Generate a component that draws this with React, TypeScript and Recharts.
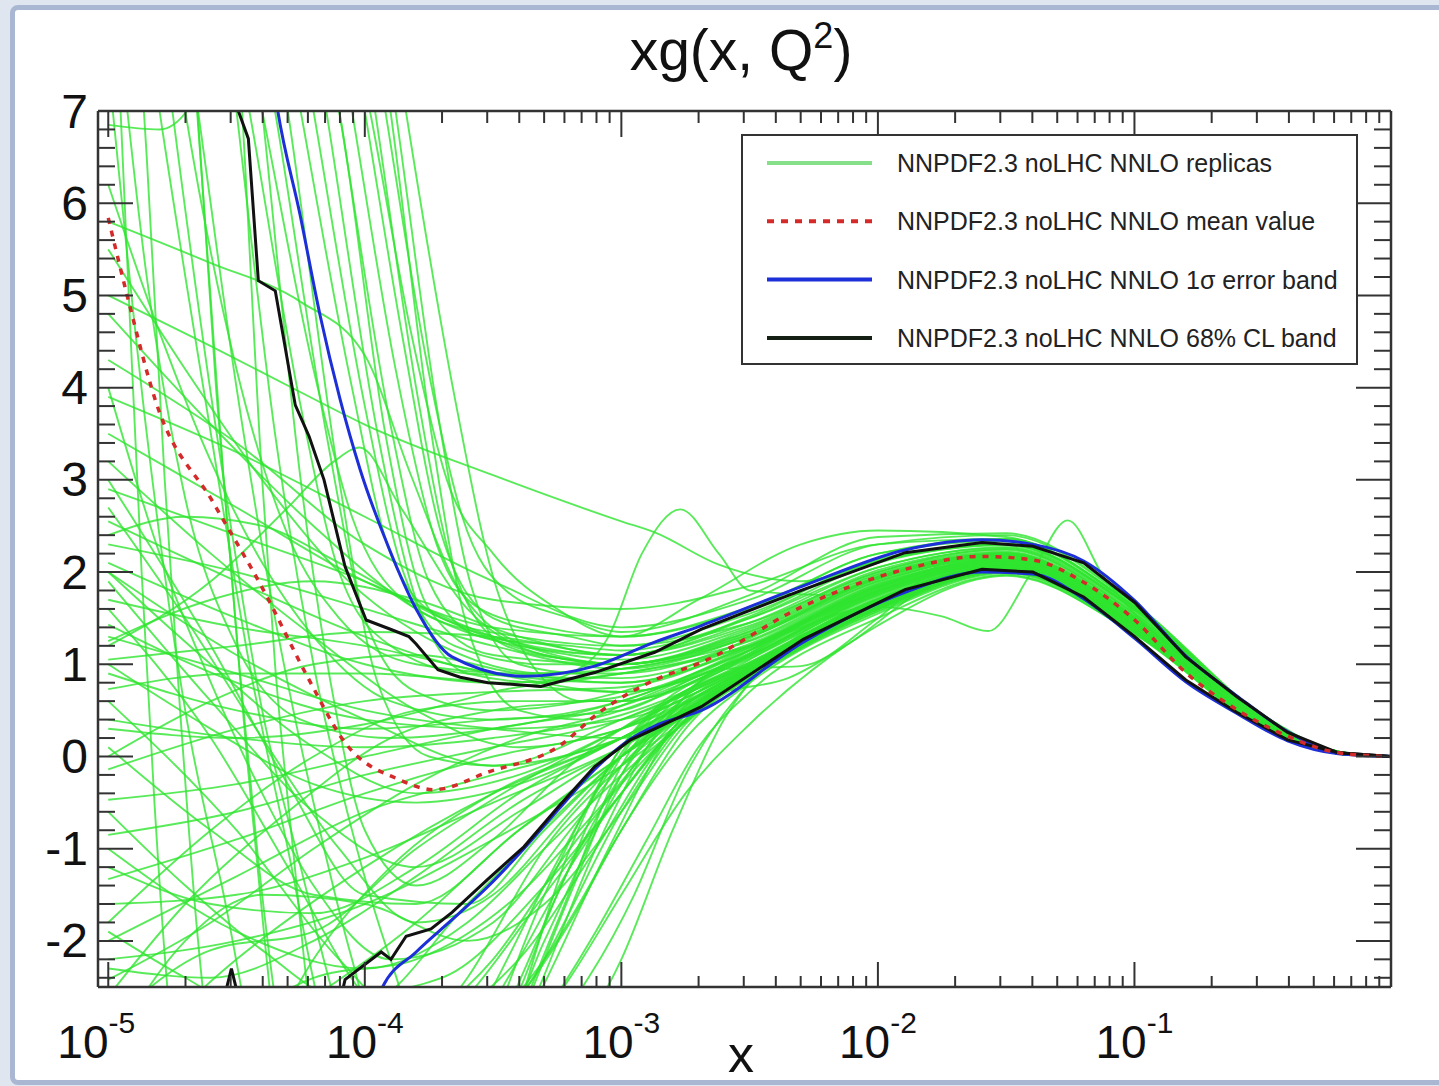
import React from 'react';
import { LineChart, Line, XAxis, YAxis } from 'recharts';

type Pt = [number, number];

// x values are log10(x); y values are xg(x, Q^2)
const meanCurve: Pt[] = [
  [-5, 5.84], [-4.921, 4.94], [-4.816, 3.86], [-4.59, 2.75], [-4.396, 1.81], [-4.217, 0.83],
  [-4.077, 0.15], [-3.867, -0.25], [-3.73, -0.36], [-3.52, -0.17], [-3.244, 0.11], [-3.085, 0.48],
  [-2.87, 0.83], [-2.688, 1.02], [-2.291, 1.63], [-1.894, 2.03], [-1.594, 2.17], [-1.396, 2.13],
  [-1.198, 1.89], [-0.999, 1.48], [-0.8, 0.91], [-0.602, 0.51], [-0.403, 0.22], [-0.205, 0.04], [0, 0],
];

const upper68: Pt[] = [
  [-4.55, 8.5], [-4.493, 7.0], [-4.454, 6.7], [-4.415, 5.16], [-4.349, 5.05], [-4.271, 3.81],
  [-4.217, 3.47], [-4.159, 3.0], [-4.077, 2.06], [-3.995, 1.48], [-3.9, 1.38], [-3.828, 1.3],
  [-3.8, 1.22], [-3.715, 0.94], [-3.628, 0.86], [-3.52, 0.8], [-3.314, 0.76], [-3.104, 0.91],
  [-2.87, 1.13], [-2.688, 1.38], [-2.291, 1.81], [-1.894, 2.21], [-1.594, 2.32], [-1.396, 2.28],
  [-1.198, 2.1], [-0.999, 1.67], [-0.8, 1.08], [-0.602, 0.65], [-0.403, 0.26], [-0.205, 0.04], [0, 0],
];

const lower68: Pt[] = [
  [-4.6, -3.2], [-4.52, -2.3], [-4.45, -3.1], [-4.2, -3.4], [-4.1, -2.7], [-4.077, -2.42],
  [-3.936, -2.12], [-3.898, -2.2], [-3.839, -1.95], [-3.742, -1.87], [-3.66, -1.69], [-3.52, -1.33],
  [-3.38, -0.98], [-3.244, -0.54], [-3.104, -0.11], [-2.964, 0.18], [-2.87, 0.3], [-2.688, 0.54],
  [-2.291, 1.27], [-1.894, 1.81], [-1.594, 2.03], [-1.396, 2.0], [-1.198, 1.73], [-0.999, 1.3],
  [-0.8, 0.83], [-0.602, 0.48], [-0.403, 0.18], [-0.205, 0.04], [0, 0],
];

const upperSigma: Pt[] = [
  [-4.45, 9.5], [-4.341, 7.03], [-4.252, 5.87], [-4.174, 4.78], [-4.096, 3.87], [-4.018, 3.11],
  [-3.909, 2.28], [-3.8, 1.6], [-3.66, 1.08], [-3.38, 0.87], [-3.104, 0.98], [-2.87, 1.24],
  [-2.688, 1.42], [-2.291, 1.85], [-1.894, 2.24], [-1.594, 2.35], [-1.396, 2.3], [-1.198, 2.12],
  [-0.999, 1.69], [-0.8, 1.09], [-0.602, 0.66], [-0.403, 0.27], [-0.205, 0.04], [0, 0],
];

const lowerSigma: Pt[] = [
  [-4.05, -3.5], [-3.936, -2.53], [-3.8, -2.12], [-3.66, -1.77], [-3.52, -1.41], [-3.38, -1.0],
  [-3.244, -0.57], [-3.104, -0.14], [-2.964, 0.19], [-2.87, 0.33], [-2.688, 0.5], [-2.291, 1.24],
  [-1.894, 1.78], [-1.594, 2.0], [-1.396, 1.98], [-1.198, 1.71], [-0.999, 1.28], [-0.8, 0.81],
  [-0.602, 0.47], [-0.403, 0.17], [-0.205, 0.03], [0, 0],
];

const replicaCurves: Pt[][] = [
  // steep replicas coming down from the top
  [[-4.5,11],[-4.25,7],[-4.05,4],[-3.9,2.2],[-3.7,1.5],[-3.4,1.3],[-3,1.2],[-2.5,1.55],[-2,2.12],[-1.5,2.3],[-1,1.6],[-0.5,0.43],[-0.2,0.05],[0,0]],
  [[-4.5,12],[-4.2,7],[-4,3.8],[-3.85,2],[-3.65,1.2],[-3.3,1],[-3,1],[-2.5,1.35],[-2,1.95],[-1.5,2.2],[-1,1.5],[-0.5,0.39],[-0.2,0.04],[0,0]],
  [[-4.5,13],[-4.15,7],[-3.95,3.5],[-3.8,1.7],[-3.6,0.9],[-3.3,0.8],[-3,0.9],[-2.5,1.2],[-2,1.85],[-1.5,2.15],[-1,1.47],[-0.5,0.37],[-0.2,0.04],[0,0]],
  [[-4.4,12],[-4.1,7],[-3.9,3.6],[-3.75,1.9],[-3.55,1.3],[-3.2,1.2],[-3,1.15],[-2.5,1.5],[-2,2.05],[-1.5,2.27],[-1,1.58],[-0.5,0.41],[-0.2,0.05],[0,0]],
  [[-4.4,13],[-4.05,7],[-3.88,4.2],[-3.72,2.3],[-3.55,1.6],[-3.3,1.4],[-3,1.3],[-2.5,1.62],[-2,2.2],[-1.5,2.36],[-1,1.63],[-0.5,0.44],[-0.2,0.05],[0,0]],
  [[-4.3,12],[-4,7],[-3.85,4.5],[-3.7,2.4],[-3.5,1.5],[-3.2,1.3],[-3,1.2],[-2.5,1.45],[-2,2.0],[-1.5,2.25],[-1,1.55],[-0.5,0.4],[-0.2,0.04],[0,0]],
  [[-4.3,13],[-3.96,7],[-3.8,4],[-3.65,2],[-3.45,1.2],[-3.2,1.05],[-3,1],[-2.5,1.3],[-2,1.9],[-1.5,2.16],[-1,1.48],[-0.5,0.38],[-0.2,0.04],[0,0]],
  [[-4.2,12],[-3.92,7],[-3.76,4.3],[-3.62,2.6],[-3.45,1.8],[-3.2,1.5],[-3,1.35],[-2.5,1.75],[-2,2.38],[-1.5,2.42],[-1,1.66],[-0.5,0.45],[-0.2,0.05],[0,0]],
  [[-4.2,13],[-3.88,7],[-3.72,3.8],[-3.58,1.8],[-3.4,1],[-3.15,0.9],[-3,0.95],[-2.5,1.25],[-2,1.88],[-1.5,2.18],[-1,1.5],[-0.5,0.38],[-0.2,0.04],[0,0]],
  [[-4.1,12],[-3.84,7],[-3.65,3.9],[-3.5,1.95],[-3.35,1],[-3.15,0.6],[-3,0.6],[-2.5,1.1],[-2,1.8],[-1.5,2.12],[-1,1.45],[-0.5,0.36],[-0.2,0.03],[0,0]],
  [[-4.6,12],[-4.3,7],[-4.1,3],[-3.95,0.8],[-3.75,0],[-3.5,-0.1],[-3,0.4],[-2.5,1.0],[-2,1.7],[-1.5,2.06],[-1,1.4],[-0.5,0.35],[-0.2,0.03],[0,0]],
  [[-4.7,12],[-4.35,7],[-4.15,3.5],[-4,1.5],[-3.8,0.7],[-3.5,0.5],[-3,0.7],[-2.5,1.28],[-2,1.93],[-1.5,2.19],[-1,1.5],[-0.5,0.38],[-0.2,0.04],[0,0]],
  [[-4.3,11],[-3.98,7],[-3.82,4.6],[-3.68,3],[-3.5,2.2],[-3.25,1.6],[-3,1.3],[-2.5,1.6],[-2,2.2],[-1.5,2.34],[-1,1.62],[-0.5,0.43],[-0.2,0.05],[0,0]],
  [[-4.2,12],[-3.9,7],[-3.74,3.5],[-3.6,1.4],[-3.4,0.5],[-3.15,0.4],[-3,0.55],[-2.5,1.15],[-2,1.82],[-1.5,2.14],[-1,1.46],[-0.5,0.37],[-0.2,0.04],[0,0]],
  [[-4.8,12],[-4.45,7],[-4.25,3.8],[-4.1,2],[-3.9,1.2],[-3.6,0.9],[-3,0.85],[-2.5,1.22],[-2,1.87],[-1.5,2.14],[-1,1.47],[-0.5,0.37],[-0.2,0.04],[0,0]],
  [[-4.75,12],[-4.4,7],[-4.2,4.2],[-4.05,2.6],[-3.85,1.7],[-3.5,1.3],[-3,1.1],[-2.5,1.42],[-2,2.02],[-1.5,2.24],[-1,1.54],[-0.5,0.4],[-0.2,0.04],[0,0]],
  [[-4.9,11],[-4.7,7],[-4.5,4.2],[-4.3,2.4],[-4.1,1.5],[-3.8,1.0],[-3.4,0.9],[-3,0.95],[-2.5,1.3],[-2,1.92],[-1.5,2.18],[-1,1.5],[-0.5,0.38],[-0.2,0.04],[0,0]],
  [[-4.6,12],[-4.4,7],[-4.25,3.0],[-4.12,0.6],[-4.0,-0.8],[-3.8,-1.4],[-3.5,-0.9],[-3.2,-0.1],[-3,0.3],[-2.5,1.0],[-2,1.71],[-1.5,2.07],[-1,1.41],[-0.5,0.35],[-0.2,0.03],[0,0]],
  // near-vertical replicas crossing the whole range
  [[-5,7.5],[-4.85,3.5],[-4.7,0.5],[-4.55,-1.5],[-4.4,-3.5],[-4,-5],[-3.5,-3.5],[-3.2,-1.0],[-3,0.1],[-2.5,1.05],[-2,1.75],[-1.5,2.08],[-1,1.41],[-0.5,0.35],[-0.2,0.03],[0,0]],
  [[-5,11],[-4.8,7],[-4.6,3.5],[-4.45,1],[-4.3,-1],[-4.15,-3],[-3.8,-4.5],[-3.4,-3],[-3.1,-1],[-2.9,0.1],[-2.7,0.8],[-2.5,1.15],[-2,1.8],[-1.5,2.1],[-1,1.44],[-0.5,0.36],[-0.2,0.03],[0,0]],
  [[-5,13],[-4.75,7],[-4.55,3],[-4.4,0.5],[-4.25,-1.2],[-4.1,-2.8],[-3.9,-4],[-3.5,-3],[-3.2,-1.2],[-3,-0.2],[-2.75,0.6],[-2.5,1.0],[-2,1.68],[-1.5,2.05],[-1,1.39],[-0.5,0.34],[-0.2,0.03],[0,0]],
  [[-4.9,12],[-4.65,7],[-4.5,4],[-4.35,1.5],[-4.2,-0.5],[-4.05,-2.2],[-3.9,-3.5],[-3.6,-3.8],[-3.3,-2],[-3,-0.3],[-2.75,0.55],[-2.5,0.95],[-2,1.64],[-1.5,2.04],[-1,1.38],[-0.5,0.34],[-0.2,0.03],[0,0]],
  [[-4.7,12],[-4.5,7],[-4.35,3.5],[-4.2,1],[-4.05,-0.8],[-3.9,-2.2],[-3.75,-3.2],[-3.5,-3],[-3.25,-1.5],[-3,0],[-2.5,1.1],[-2,1.78],[-1.5,2.09],[-1,1.43],[-0.5,0.35],[-0.2,0.03],[0,0]],
  [[-5,16],[-4.7,9],[-4.58,4],[-4.52,2],[-4.46,0],[-4.39,-2],[-4.3,-4],[-4,-5],[-3.5,-3.5],[-3.2,-1.5],[-3,-0.2],[-2.75,0.65],[-2.5,1.02],[-2,1.7],[-1.5,2.07],[-1,1.4],[-0.5,0.35],[-0.2,0.03],[0,0]],
  [[-5,15],[-4.68,8],[-4.55,3],[-4.49,1],[-4.42,-1],[-4.33,-3],[-4.1,-5],[-3.6,-4],[-3.25,-1.8],[-3,-0.1],[-2.75,0.7],[-2.5,1.08],[-2,1.76],[-1.5,2.1],[-1,1.44],[-0.5,0.36],[-0.2,0.03],[0,0]],
  [[-4.8,14],[-4.5,8],[-4.4,3],[-4.35,1],[-4.28,-1],[-4.2,-3],[-4,-4.5],[-3.6,-3.5],[-3.3,-1.5],[-3,0.1],[-2.5,1.12],[-2,1.79],[-1.5,2.11],[-1,1.45],[-0.5,0.36],[-0.2,0.03],[0,0]],
  [[-5,10],[-4.92,5],[-4.87,2],[-4.82,-0.5],[-4.75,-3],[-4.5,-5],[-3.8,-4],[-3.3,-2.2],[-3,-0.6],[-2.75,0.4],[-2.5,0.9],[-2,1.6],[-1.5,2.02],[-1,1.36],[-0.5,0.33],[-0.2,0.03],[0,0]],
  [[-5,12],[-4.85,6.5],[-4.78,3],[-4.72,0.5],[-4.65,-2],[-4.55,-4],[-4,-5],[-3.4,-3],[-3.05,-1],[-2.8,0.3],[-2.5,0.95],[-2,1.66],[-1.5,2.04],[-1,1.38],[-0.5,0.34],[-0.2,0.03],[0,0]],
  [[-5,4.0],[-4.8,2.2],[-4.6,0.8],[-4.4,-0.4],[-4.2,-1.4],[-3.9,-2.2],[-3.5,-1.8],[-3.2,-0.8],[-3,-0.1],[-2.5,0.92],[-2,1.64],[-1.5,2.04],[-1,1.38],[-0.5,0.34],[-0.2,0.03],[0,0]],
  [[-5,9],[-4.85,5.2],[-4.7,2.8],[-4.5,1.2],[-4.25,0.4],[-3.9,0.2],[-3.5,0.3],[-3,0.6],[-2.5,1.16],[-2,1.83],[-1.5,2.12],[-1,1.46],[-0.5,0.37],[-0.2,0.04],[0,0]],
  // long replicas starting at the left edge
  [[-5,5.8],[-4.6,5.35],[-4.25,4.93],[-4,4.35],[-3.82,3.05],[-3.65,1.9],[-3.45,1.3],[-3.2,1.1],[-3,1.05],[-2.5,1.4],[-2,2.0],[-1.5,2.22],[-1,1.52],[-0.5,0.39],[-0.2,0.04],[0,0]],
  [[-5,5.0],[-4.6,4.45],[-4.25,3.95],[-4,3.6],[-3.5,3.05],[-3,2.55],[-2.87,2.43],[-2.62,2.08],[-2.3,1.9],[-2,2.12],[-1.5,2.3],[-1,1.6],[-0.5,0.42],[-0.2,0.05],[0,0]],
  [[-5,6.85],[-4.8,6.8],[-4.65,7.2],[-4.5,8.5],[-4.3,9],[-4.1,7],[-3.92,3.5],[-3.75,1.6],[-3.5,1.1],[-3,1],[-2.5,1.33],[-2,1.94],[-1.5,2.18],[-1,1.5],[-0.5,0.38],[-0.2,0.04],[0,0]],
  [[-5,1.2],[-4.6,1.9],[-4.3,2.7],[-4.12,3.2],[-4.02,3.35],[-3.86,2.7],[-3.6,1.6],[-3.3,1.1],[-3,1],[-2.5,1.36],[-2,1.97],[-1.5,2.2],[-1,1.51],[-0.5,0.38],[-0.2,0.04],[0,0]],
  [[-5,0.3],[-4.5,0.2],[-4,0.35],[-3.5,0.7],[-3.2,0.9],[-3.05,1.3],[-2.92,2.2],[-2.77,2.68],[-2.62,2.2],[-2.5,1.8],[-2.2,1.75],[-2,1.95],[-1.5,2.2],[-1,1.5],[-0.5,0.38],[-0.2,0.04],[0,0]],
  [[-5,2.1],[-4.5,1.5],[-4,1.0],[-3.5,0.8],[-3,0.9],[-2.5,1.2],[-2,1.62],[-1.75,1.52],[-1.57,1.36],[-1.4,2.0],[-1.26,2.56],[-1.12,1.95],[-1,1.55],[-0.5,0.4],[-0.2,0.04],[0,0]],
  [[-5,3.9],[-4.5,3.3],[-4,2.6],[-3.5,1.9],[-3,1.4],[-2.5,1.7],[-2,2.3],[-1.5,2.4],[-1,1.65],[-0.5,0.45],[-0.2,0.05],[0,0]],
  [[-5,2.9],[-4.5,2.4],[-4,1.9],[-3.5,1.3],[-3,1.0],[-2.5,1.32],[-2,1.93],[-1.5,2.17],[-1,1.49],[-0.5,0.38],[-0.2,0.04],[0,0]],
  [[-5,2.55],[-4.5,1.9],[-4,1.3],[-3.5,0.9],[-3,0.8],[-2.5,1.18],[-2,1.84],[-1.5,2.13],[-1,1.46],[-0.5,0.37],[-0.2,0.04],[0,0]],
  [[-5,2.3],[-4.5,2.0],[-4,1.6],[-3.5,1.2],[-3,0.95],[-2.5,1.3],[-2,1.95],[-1.5,2.2],[-1,1.51],[-0.5,0.38],[-0.2,0.04],[0,0]],
  [[-5,1.7],[-4.5,1.4],[-4,1.2],[-3.5,0.9],[-3,0.7],[-2.5,1.08],[-2,1.76],[-1.5,2.1],[-1,1.44],[-0.5,0.36],[-0.2,0.03],[0,0]],
  [[-5,1.43],[-4.5,0.8],[-4,0.4],[-3.5,0.3],[-3,0.4],[-2.5,0.98],[-2,1.68],[-1.5,2.06],[-1,1.4],[-0.5,0.35],[-0.2,0.03],[0,0]],
  [[-5,1.05],[-4.5,1.2],[-4,1.35],[-3.5,1.3],[-3,1.1],[-2.5,1.45],[-2,2.05],[-1.5,2.26],[-1,1.56],[-0.5,0.41],[-0.2,0.05],[0,0]],
  [[-5,0.73],[-4.5,0.9],[-4,0.9],[-3.5,0.8],[-3,0.7],[-2.5,1.1],[-2,1.78],[-1.5,2.12],[-1,1.45],[-0.5,0.36],[-0.2,0.03],[0,0]],
  [[-5,0.4],[-4.5,0.2],[-4,0.1],[-3.5,0.2],[-3,0.45],[-2.5,1.02],[-2,1.72],[-1.5,2.08],[-1,1.42],[-0.5,0.35],[-0.2,0.03],[0,0]],
  [[-5,-0.14],[-4.5,0.3],[-4,0.6],[-3.5,0.7],[-3,0.75],[-2.5,1.2],[-2,1.86],[-1.5,2.15],[-1,1.48],[-0.5,0.37],[-0.2,0.04],[0,0]],
  [[-5,-0.47],[-4.5,-0.3],[-4,0],[-3.5,0.3],[-3,0.55],[-2.5,1.12],[-2,1.8],[-1.5,2.11],[-1,1.45],[-0.5,0.36],[-0.2,0.03],[0,0]],
  [[-5,4.8],[-4.6,3.6],[-4.2,2.5],[-3.8,1.6],[-3.4,1.2],[-3,1.1],[-2.5,1.5],[-2,2.1],[-1.5,2.29],[-1,1.59],[-0.5,0.42],[-0.2,0.05],[0,0]],
  [[-5,5.5],[-4.7,4.2],[-4.4,3],[-4.1,2],[-3.7,1.2],[-3.3,0.9],[-3,0.9],[-2.5,1.26],[-2,1.9],[-1.5,2.16],[-1,1.48],[-0.5,0.37],[-0.2,0.04],[0,0]],
  [[-5,3.2],[-4.6,2.2],[-4.2,1.3],[-3.8,0.5],[-3.4,0.1],[-3,0.3],[-2.5,0.92],[-2,1.64],[-1.5,2.04],[-1,1.38],[-0.5,0.34],[-0.2,0.03],[0,0]],
  [[-5,2],[-4.5,1.1],[-4,0.4],[-3.5,-0.1],[-3,0.2],[-2.5,0.88],[-2,1.6],[-1.5,2.02],[-1,1.36],[-0.5,0.33],[-0.2,0.03],[0,0]],
  [[-5,1.25],[-4.6,1.7],[-4.2,1.9],[-3.8,1.7],[-3.4,1.3],[-3,1.1],[-2.5,1.52],[-2,2.14],[-1.5,2.31],[-1,1.6],[-0.5,0.43],[-0.2,0.05],[0,0]],
  [[-5,0.9],[-4.5,0.5],[-4,0.3],[-3.5,0.4],[-3,0.5],[-2.6,0.95],[-2.3,0.98],[-2,1.5],[-1.7,2.15],[-1.5,2.2],[-1,1.47],[-0.5,0.37],[-0.2,0.04],[0,0]],
  [[-5,3.5],[-4.5,2.7],[-4,1.9],[-3.5,1.4],[-3,1.3],[-2.7,1.7],[-2.3,2.3],[-2,2.45],[-1.5,2.38],[-1,1.63],[-0.5,0.44],[-0.2,0.05],[0,0]],
  [[-5,4.3],[-4.5,3.4],[-4,2.3],[-3.5,1.7],[-3,1.6],[-2.5,1.85],[-2,2.3],[-1.5,2.36],[-1,1.62],[-0.5,0.43],[-0.2,0.05],[0,0]],
  [[-5,2.4],[-4.7,2.6],[-4.4,2.5],[-4.1,2.1],[-3.7,1.5],[-3.3,1.1],[-3,1.0],[-2.5,1.38],[-2,1.98],[-1.5,2.21],[-1,1.52],[-0.5,0.39],[-0.2,0.04],[0,0]],
  [[-5,6.2],[-4.8,4.6],[-4.6,3.2],[-4.4,2.1],[-4.2,1.3],[-3.9,0.6],[-3.5,0.4],[-3,0.6],[-2.5,1.18],[-2,1.84],[-1.5,2.13],[-1,1.46],[-0.5,0.37],[-0.2,0.04],[0,0]],
  [[-5,0.0],[-4.6,0.6],[-4.2,1.0],[-3.8,1.1],[-3.4,0.9],[-3,0.8],[-2.5,1.2],[-2,1.85],[-1.5,2.14],[-1,1.47],[-0.5,0.37],[-0.2,0.04],[0,0]],
  [[-5,2.0],[-4.6,1.0],[-4.2,0.1],[-3.8,-0.4],[-3.4,-0.2],[-3,0.3],[-2.5,0.98],[-2,1.7],[-1.5,2.06],[-1,1.4],[-0.5,0.35],[-0.2,0.03],[0,0]],
  [[-5,1.3],[-4.5,0.9],[-4,0.5],[-3.5,0.3],[-3,0.2],[-2.6,0.7],[-2.35,0.85],[-2.1,1.25],[-1.8,1.85],[-1.5,2.08],[-1,1.42],[-0.5,0.35],[-0.2,0.03],[0,0]],
  // replicas coming up from below
  [[-5,-0.85],[-4.5,-0.6],[-4,-0.2],[-3.5,0.1],[-3,0.4],[-2.5,1.0],[-2,1.7],[-1.5,2.07],[-1,1.41],[-0.5,0.35],[-0.2,0.03],[0,0]],
  [[-5,-1.33],[-4.5,-0.9],[-4,-0.4],[-3.5,0],[-3,0.3],[-2.5,0.95],[-2,1.66],[-1.5,2.05],[-1,1.39],[-0.5,0.34],[-0.2,0.03],[0,0]],
  [[-5,-1.6],[-4.5,-1.5],[-4,-1.1],[-3.5,-0.5],[-3,0.1],[-2.5,0.9],[-2,1.62],[-1.5,2.03],[-1,1.37],[-0.5,0.34],[-0.2,0.03],[0,0]],
  [[-5,-2],[-4.5,-1.3],[-4,-0.6],[-3.5,-0.2],[-3,0.2],[-2.5,0.93],[-2,1.65],[-1.5,2.05],[-1,1.39],[-0.5,0.34],[-0.2,0.03],[0,0]],
  [[-5,-2.2],[-4.5,-2],[-4,-1.6],[-3.5,-0.9],[-3,-0.1],[-2.5,0.9],[-2,1.6],[-1.5,2.02],[-1,1.36],[-0.5,0.33],[-0.2,0.03],[0,0]],
  [[-5,-2.42],[-4.6,-1.8],[-4.2,-1],[-3.8,-0.3],[-3.4,0.2],[-3,0.5],[-2.5,1.06],[-2,1.74],[-1.5,2.09],[-1,1.43],[-0.5,0.35],[-0.2,0.03],[0,0]],
  [[-5,-3.5],[-4.5,-2.2],[-4,-1.2],[-3.5,-0.4],[-3,0.2],[-2.5,0.97],[-2,1.69],[-1.5,2.07],[-1,1.41],[-0.5,0.35],[-0.2,0.03],[0,0]],
  [[-5,-4],[-4.3,-2.8],[-3.8,-1.8],[-3.4,-0.8],[-3,0],[-2.5,0.88],[-2,1.6],[-1.5,2.02],[-1,1.37],[-0.5,0.34],[-0.2,0.03],[0,0]],
  [[-5,-5],[-4,-3.5],[-3.6,-2.6],[-3.3,-1.5],[-3,-0.4],[-2.75,0.4],[-2.5,0.85],[-2,1.57],[-1.5,2.0],[-1,1.35],[-0.5,0.33],[-0.2,0.03],[0,0]],
  [[-5,-6],[-4,-4.5],[-3.5,-3],[-3.2,-1.8],[-3,-0.8],[-2.75,0.2],[-2.5,0.8],[-2,1.55],[-1.5,1.99],[-1,1.34],[-0.5,0.32],[-0.2,0.03],[0,0]],
  [[-5,-3],[-4.5,-3.5],[-4,-3.2],[-3.5,-2.2],[-3.2,-1],[-3,-0.3],[-2.5,0.9],[-2,1.63],[-1.5,2.03],[-1,1.37],[-0.5,0.34],[-0.2,0.03],[0,0]],
  [[-5,-5],[-4,-5],[-3.4,-3.2],[-3.1,-1.9],[-2.9,-0.9],[-2.7,0.1],[-2.5,0.7],[-2,1.5],[-1.5,1.97],[-1,1.33],[-0.5,0.32],[-0.2,0.03],[0,0]],
  [[-5,-2.3],[-4.6,-2.4],[-4.2,-2],[-3.8,-1.3],[-3.4,-0.5],[-3,0.1],[-2.5,0.92],[-2,1.64],[-1.5,2.04],[-1,1.38],[-0.5,0.34],[-0.2,0.03],[0,0]],
  [[-5,-1],[-4.5,-1.9],[-4,-2.3],[-3.6,-1.8],[-3.3,-1],[-3,-0.2],[-2.5,0.86],[-2,1.58],[-1.5,2.01],[-1,1.36],[-0.5,0.33],[-0.2,0.03],[0,0]],
  [[-5,0.1],[-4.6,-0.8],[-4.2,-1.5],[-3.8,-1.6],[-3.4,-0.8],[-3,0],[-2.5,0.9],[-2,1.62],[-1.5,2.03],[-1,1.37],[-0.5,0.34],[-0.2,0.03],[0,0]],
  [[-5,1.9],[-4.6,0.6],[-4.2,-0.6],[-3.8,-1.2],[-3.4,-0.6],[-3,0.1],[-2.5,0.94],[-2,1.66],[-1.5,2.05],[-1,1.39],[-0.5,0.34],[-0.2,0.03],[0,0]],
  [[-5,3],[-4.6,1.2],[-4.3,-0.3],[-4,-1.5],[-3.6,-1.6],[-3.3,-0.8],[-3,0],[-2.5,0.88],[-2,1.6],[-1.5,2.02],[-1,1.36],[-0.5,0.33],[-0.2,0.03],[0,0]],
  [[-5,2.7],[-4.7,1.5],[-4.4,0.2],[-4.1,-1],[-3.8,-1.8],[-3.5,-1.5],[-3.2,-0.6],[-3,0],[-2.5,0.9],[-2,1.62],[-1.5,2.03],[-1,1.37],[-0.5,0.34],[-0.2,0.03],[0,0]],
  [[-5,-8],[-3.5,-4],[-3,-2.2],[-2.8,-0.8],[-2.6,0.4],[-2.4,1.1],[-2,1.7],[-1.5,2.06],[-1,1.4],[-0.5,0.35],[-0.2,0.03],[0,0]],
  [[-5,-8],[-3.4,-3.5],[-2.95,-1.5],[-2.75,-0.2],[-2.5,0.8],[-2,1.6],[-1.5,2.02],[-1,1.37],[-0.5,0.34],[-0.2,0.03],[0,0]],
  [[-5,1.6],[-4.6,0.2],[-4.3,-1.2],[-4,-2.6],[-3.7,-3.2],[-3.3,-2.2],[-3,-0.8],[-2.75,0.3],[-2.5,0.9],[-2,1.62],[-1.5,2.03],[-1,1.37],[-0.5,0.34],[-0.2,0.03],[0,0]],
  [[-5,0.6],[-4.5,-0.8],[-4.1,-2.2],[-3.8,-2.9],[-3.4,-2.2],[-3.1,-1.0],[-2.85,0.1],[-2.5,0.87],[-2,1.6],[-1.5,2.02],[-1,1.36],[-0.5,0.33],[-0.2,0.03],[0,0]],
  [[-5,-1.8],[-4.6,-0.8],[-4.2,0.0],[-3.8,0.5],[-3.4,0.6],[-3,0.6],[-2.5,1.1],[-2,1.78],[-1.5,2.11],[-1,1.45],[-0.5,0.36],[-0.2,0.03],[0,0]],
  [[-5,-2.6],[-4.7,-1.6],[-4.3,-0.6],[-3.9,0.2],[-3.5,0.5],[-3,0.65],[-2.5,1.15],[-2,1.82],[-1.5,2.13],[-1,1.46],[-0.5,0.37],[-0.2,0.04],[0,0]],
  [[-5,1.0],[-4.6,0.3],[-4.2,-0.3],[-3.8,-0.5],[-3.4,-0.3],[-3,0.2],[-2.5,0.95],[-2,1.67],[-1.5,2.05],[-1,1.39],[-0.5,0.34],[-0.2,0.03],[0,0]],
  [[-5,-1.2],[-4.6,-1.6],[-4.2,-1.7],[-3.8,-1.2],[-3.4,-0.4],[-3,0.2],[-2.5,0.96],[-2,1.68],[-1.5,2.06],[-1,1.4],[-0.5,0.35],[-0.2,0.03],[0,0]],
  [[-5,-0.6],[-4.7,-1.4],[-4.4,-2.1],[-4.1,-2.6],[-3.7,-2.4],[-3.3,-1.4],[-3,-0.4],[-2.75,0.45],[-2.5,0.92],[-2,1.63],[-1.5,2.03],[-1,1.37],[-0.5,0.34],[-0.2,0.03],[0,0]],
  [[-5,-7],[-4.5,-3.8],[-4.2,-2.2],[-3.9,-1.2],[-3.5,-0.4],[-3,0.2],[-2.5,0.97],[-2,1.68],[-1.5,2.06],[-1,1.4],[-0.5,0.35],[-0.2,0.03],[0,0]],
  [[-5,-4],[-4.6,-3.1],[-4.2,-2.4],[-3.8,-2.2],[-3.4,-1.5],[-3.1,-0.6],[-2.8,0.35],[-2.5,0.9],[-2,1.62],[-1.5,2.03],[-1,1.37],[-0.5,0.34],[-0.2,0.03],[0,0]],
  [[-5,-2.9],[-4.6,-2.1],[-4.2,-1.9],[-3.8,-1.0],[-3.4,-0.3],[-3,0.3],[-2.5,0.97],[-2,1.69],[-1.5,2.06],[-1,1.4],[-0.5,0.35],[-0.2,0.03],[0,0]],
  [[-5,-1.9],[-4.7,-2.4],[-4.4,-2.8],[-4,-2.7],[-3.6,-1.6],[-3.2,-0.5],[-3,0],[-2.5,0.9],[-2,1.62],[-1.5,2.03],[-1,1.37],[-0.5,0.34],[-0.2,0.03],[0,0]],
  [[-5,-3.2],[-4.7,-2.0],[-4.4,-1.5],[-4,-1.6],[-3.6,-2.0],[-3.3,-1.6],[-3,-0.6],[-2.75,0.35],[-2.5,0.88],[-2,1.6],[-1.5,2.02],[-1,1.36],[-0.5,0.33],[-0.2,0.03],[0,0]],
  [[-5,-9],[-3.8,-4],[-3.5,-2.5],[-3.3,-1.4],[-3.1,-0.4],[-2.9,0.4],[-2.5,1.0],[-2,1.7],[-1.5,2.06],[-1,1.4],[-0.5,0.35],[-0.2,0.03],[0,0]],
  [[-5,-9],[-3.7,-3.6],[-3.4,-2.2],[-3.2,-1.2],[-3,-0.4],[-2.75,0.45],[-2.5,0.95],[-2,1.66],[-1.5,2.04],[-1,1.38],[-0.5,0.34],[-0.2,0.03],[0,0]],
  [[-5,-7],[-3.9,-3.4],[-3.6,-2.4],[-3.3,-1.0],[-3,-0.1],[-2.5,0.9],[-2,1.62],[-1.5,2.03],[-1,1.37],[-0.5,0.34],[-0.2,0.03],[0,0]],
  [[-5,-6],[-3.6,-3.8],[-3.2,-2.4],[-3,-1.5],[-2.75,-0.4],[-2.5,0.35],[-2.25,0.95],[-2,1.42],[-1.5,1.96],[-1,1.33],[-0.5,0.32],[-0.2,0.03],[0,0]],
];

const xMajorExponents = [-5, -4, -3, -2, -1];
const yTickLabels = ['-2', '-1', '0', '1', '2', '3', '4', '5', '6', '7'];
const legendLabels = [
  'NNPDF2.3 noLHC NNLO replicas',
  'NNPDF2.3 noLHC NNLO mean value',
  'NNPDF2.3 noLHC NNLO 1\u03c3 error band',
  'NNPDF2.3 noLHC NNLO 68% CL band',
];
const titleText = 'xg(x, Q';
const xAxisTitle = 'x';

const FONT = "'Liberation Sans', Arial, Helvetica, sans-serif";
const FRAME = '#333';
const GREEN = '#2fe52f';
const RED = '#d42a2a';
const BLUE = '#1c2fd8';
const BLACK = '#111';

const toRows = (pts: Pt[]) => pts.map(([lx, v]) => ({ lx, v }));

const xTicks: number[] = [];
xMajorExponents.forEach((e) => {
  for (let k = 1; k <= 9; k++) xTicks.push(e + Math.log10(k));
});
xTicks.push(0);

const yTicks: number[] = [];
for (let i = 0; i <= 47; i++) yTicks.push(Math.round((-2.4 + i * 0.2) * 10) / 10);

const isInt = (v: number) => Math.abs(v - Math.round(v)) < 1e-6;

const BottomTick = (props: any) => {
  const { x, y, payload } = props;
  const v = payload.value;
  const major = isInt(v);
  const len = major ? 25 : 11;
  const e = Math.round(v);
  const showLabel = major && xMajorExponents.includes(e);
  const shift = e === -5 ? -12 : 0;
  return (
    <g>
      <line x1={x} y1={y} x2={x} y2={y - len} stroke={FRAME} strokeWidth={2} />
      {showLabel && (
        <text x={x + shift} y={y + 71} textAnchor="middle" fontSize={46} fill="#111" fontFamily={FONT}>
          10
          <tspan dy={-25} fontSize={30}>{String(e)}</tspan>
        </text>
      )}
    </g>
  );
};

const TopTick = (props: any) => {
  const { x, y, payload } = props;
  const len = isInt(payload.value) ? 26 : 12;
  return <line x1={x} y1={y} x2={x} y2={y + len} stroke={FRAME} strokeWidth={2} />;
};

const LeftTick = (props: any) => {
  const { x, y, payload } = props;
  const v = payload.value;
  const major = isInt(v);
  const len = major ? 35 : 17;
  const label = major ? yTickLabels[Math.round(v) + 2] : null;
  return (
    <g>
      <line x1={x} y1={y} x2={x + len} y2={y} stroke={FRAME} strokeWidth={2} />
      {label !== null && label !== undefined && (
        <text x={x - 10} y={y} textAnchor="end" dominantBaseline="central" fontSize={48} fill="#111" fontFamily={FONT}>
          {label}
        </text>
      )}
    </g>
  );
};

const RightTick = (props: any) => {
  const { x, y, payload } = props;
  const len = isInt(payload.value) ? 35 : 17;
  return <line x1={x} y1={y} x2={x - len} y2={y} stroke={FRAME} strokeWidth={2} />;
};

const Overlay = () => (
  <svg width={1439} height={1086} style={{ position: 'absolute', left: 0, top: 0, pointerEvents: 'none' }}>
    <text x={741} y={70} textAnchor="middle" fontSize={57} fill="#111" fontFamily={FONT}>
      {titleText}
      <tspan dy={-22} fontSize={36}>2</tspan>
      <tspan dy={22} fontSize={57}>)</tspan>
    </text>
    <text x={741} y={1072} textAnchor="middle" fontSize={52} fill="#111" fontFamily={FONT}>
      {xAxisTitle}
    </text>
    <g transform="translate(742,135)">
      <rect x={0} y={0} width={615} height={229} fill="#fff" stroke="#333" strokeWidth={2} />
      {legendLabels.map((lab, i) => {
        const cy = 28 + i * 58.3;
        const color = ['#86e08a', RED, BLUE, '#142014'][i];
        return (
          <g key={lab}>
            <line x1={25} x2={130} y1={cy} y2={cy} stroke={color} strokeWidth={4}
              strokeDasharray={i === 1 ? '7 7' : undefined} />
            <text x={155} y={cy} dominantBaseline="central" fontSize={25} fill="#222" fontFamily={FONT}>
              {lab}
            </text>
          </g>
        );
      })}
    </g>
  </svg>
);

export default function App() {
  return (
    <div style={{ position: 'absolute', left: 0, top: 0, width: 1439, height: 1086, overflow: 'hidden', background: '#dfe6ef' }}>
      <div style={{ position: 'absolute', left: 10, top: 5, width: 1445, height: 1080, boxSizing: 'border-box',
        border: '5px solid #a9b7d2', borderRadius: 8, background: '#fff' }} />
      <div style={{ position: 'absolute', left: 0, top: 0 }}>
        <LineChart width={1439} height={1086} margin={{ top: 110, right: 47, bottom: 98, left: 97 }}>
          <XAxis xAxisId="b" type="number" dataKey="lx" domain={[-5.04, 0]} allowDataOverflow
            orientation="bottom" height={1} ticks={xTicks} interval={0} tick={<BottomTick />}
            tickLine={false} tickSize={0} tickMargin={0} axisLine={{ stroke: FRAME, strokeWidth: 2.5 }} />
          <XAxis xAxisId="t" type="number" dataKey="lx" domain={[-5.04, 0]} allowDataOverflow
            orientation="top" height={1} ticks={xTicks} interval={0} tick={<TopTick />}
            tickLine={false} tickSize={0} tickMargin={0} axisLine={{ stroke: FRAME, strokeWidth: 2.5 }} />
          <YAxis yAxisId="l" type="number" domain={[-2.5, 7]} allowDataOverflow width={1}
            orientation="left" ticks={yTicks} interval={0} tick={<LeftTick />}
            tickLine={false} tickSize={0} tickMargin={0} axisLine={{ stroke: FRAME, strokeWidth: 2.5 }} />
          <YAxis yAxisId="r" type="number" domain={[-2.5, 7]} allowDataOverflow width={1}
            orientation="right" ticks={yTicks} interval={0} tick={<RightTick />}
            tickLine={false} tickSize={0} tickMargin={0} axisLine={{ stroke: FRAME, strokeWidth: 2.5 }} />
          {replicaCurves.map((c, i) => (
            <Line key={'r' + i} xAxisId="b" yAxisId="l" data={toRows(c)} dataKey="v" type="monotone"
              stroke={GREEN} strokeOpacity={0.8} strokeWidth={1.9} dot={false} activeDot={false}
              isAnimationActive={false} legendType="none" />
          ))}
          <Line xAxisId="b" yAxisId="l" data={toRows(upperSigma)} dataKey="v" type="monotone" stroke={BLUE}
            strokeWidth={3} dot={false} activeDot={false} isAnimationActive={false} name="1σ upper" />
          <Line xAxisId="b" yAxisId="l" data={toRows(lowerSigma)} dataKey="v" type="monotone" stroke={BLUE}
            strokeWidth={3} dot={false} activeDot={false} isAnimationActive={false} name="1σ lower" />
          <Line xAxisId="b" yAxisId="l" data={toRows(upper68)} dataKey="v" type="linear" stroke={BLACK}
            strokeWidth={3} dot={false} activeDot={false} isAnimationActive={false} name="68% upper" />
          <Line xAxisId="b" yAxisId="l" data={toRows(lower68)} dataKey="v" type="linear" stroke={BLACK}
            strokeWidth={3} dot={false} activeDot={false} isAnimationActive={false} name="68% lower" />
          <Line xAxisId="b" yAxisId="l" data={toRows(meanCurve)} dataKey="v" type="monotone" stroke={RED}
            strokeWidth={3.5} strokeDasharray="6 7" dot={false} activeDot={false} isAnimationActive={false} name="mean" />
        </LineChart>
      </div>
      <Overlay />
    </div>
  );
}
